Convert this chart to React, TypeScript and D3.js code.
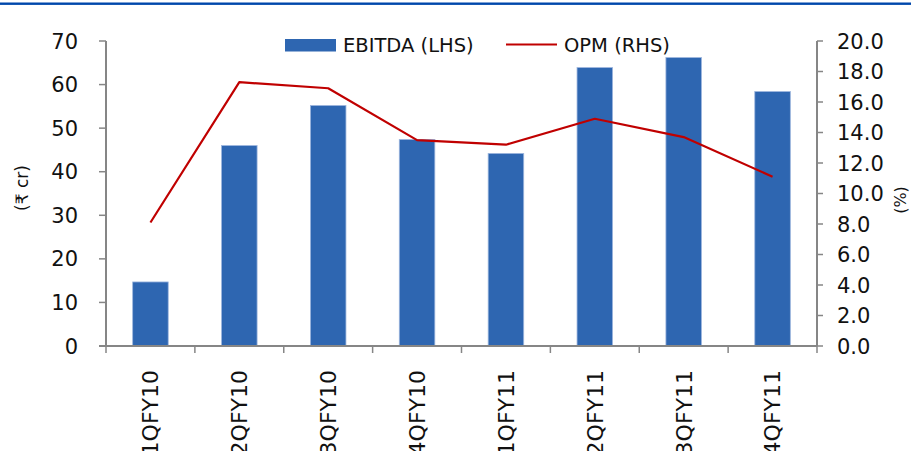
import React from "react";
import * as d3 from "d3";

const quarters = ["1QFY10", "2QFY10", "3QFY10", "4QFY10", "1QFY11", "2QFY11", "3QFY11", "4QFY11"];
const ebitda = [14.7, 46.0, 55.2, 47.4, 44.2, 63.9, 66.2, 58.4];
const opm = [8.1, 17.3, 16.9, 13.5, 13.2, 14.9, 13.7, 11.1];
const leftTicks = [0, 10, 20, 30, 40, 50, 60, 70];
const rightTicks = [0, 2, 4, 6, 8, 10, 12, 14, 16, 18, 20];

const W = 911;
const H = 451;
const M = { left: 106, right: 817, top: 41, bottom: 346 };
const FONT = "'DejaVu Sans', sans-serif";
const AXIS = "#868686";
const BAR = "#2E66B1";
const LINE = "#C00000";
const INK = "#111";

export default function App() {
  const x = d3.scaleBand<string>().domain(quarters).range([M.left, M.right]);
  const yL = d3.scaleLinear().domain([0, 70]).range([M.bottom, M.top]);
  const yR = d3.scaleLinear().domain([0, 20]).range([M.bottom, M.top]);
  const bw = x.bandwidth() * 0.4;
  const center = (q: string) => (x(q) as number) + x.bandwidth() / 2;
  const line = d3
    .line<number>()
    .x((_, i) => center(quarters[i]))
    .y((d) => yR(d));

  const boundaries = d3.range(quarters.length + 1).map((i) => M.left + i * x.step());

  return (
    <div style={{ position: "fixed", left: 0, top: 0 }}>
      <svg width={W} height={H} style={{ display: "block", fontFamily: FONT }}>
        <rect x={0} y={0} width={W} height={H} fill="#fff" />
        <rect x={0} y={2.5} width={W} height={2.4} fill="#0047AB" />

        {/* EBITDA bars */}
        {ebitda.map((v, i) => (
          <rect
            key={quarters[i]}
            x={center(quarters[i]) - bw / 2}
            y={yL(v)}
            width={bw}
            height={yL(0) - yL(v)}
            fill={BAR}
            stroke="#9DB6DE"
            strokeWidth={0.8}
          />
        ))}

        {/* OPM line */}
        <path d={line(opm) ?? ""} fill="none" stroke={LINE} strokeWidth={2.2} strokeLinejoin="round" />

        {/* left axis */}
        <line x1={M.left} x2={M.left} y1={M.top} y2={M.bottom} stroke={AXIS} strokeWidth={2} />
        {leftTicks.map((t) => (
          <g key={t}>
            <line x1={M.left - 7} x2={M.left} y1={yL(t)} y2={yL(t)} stroke={AXIS} strokeWidth={1.5} />
            <text x={78} y={yL(t)} dy="0.36em" textAnchor="end" fontSize={21} fill={INK}>
              {t}
            </text>
          </g>
        ))}

        {/* right axis */}
        <line x1={M.right} x2={M.right} y1={M.top} y2={M.bottom} stroke={AXIS} strokeWidth={2} />
        {rightTicks.map((t) => (
          <g key={t}>
            <line x1={M.right} x2={M.right + 6} y1={yR(t)} y2={yR(t)} stroke={AXIS} strokeWidth={1.5} />
            <text x={837} y={yR(t)} dy="0.36em" textAnchor="start" fontSize={21} fill={INK}>
              {t.toFixed(1)}
            </text>
          </g>
        ))}

        {/* category axis */}
        <line x1={M.left - 7} x2={M.right} y1={M.bottom} y2={M.bottom} stroke={AXIS} strokeWidth={2} />
        {boundaries.map((bx, i) => (
          <line key={i} x1={bx} x2={bx} y1={M.bottom} y2={M.bottom + 7} stroke={AXIS} strokeWidth={1.5} />
        ))}
        {quarters.map((q) => (
          <text
            key={q}
            transform={`translate(${center(q)},${370}) rotate(-90)`}
            dy="0.36em"
            textAnchor="end"
            fontSize={22}
            fill={INK}
          >
            {q}
          </text>
        ))}

        {/* axis titles */}
        <text transform="translate(22,188) rotate(-90)" dy="0.35em" textAnchor="middle" fontSize={17} fill={INK}>
          (₹ cr)
        </text>
        <text transform="translate(900,200) rotate(-90)" dy="0.35em" textAnchor="middle" fontSize={16} fill={INK}>
          (%)
        </text>

        {/* legend */}
        <rect x={285} y={39} width={51} height={12.5} fill={BAR} />
        <text x={343} y={45} dy="0.36em" fontSize={19.5} fill={INK}>
          EBITDA (LHS)
        </text>
        <line x1={506} x2={557} y1={44.5} y2={44.5} stroke={LINE} strokeWidth={2} />
        <text x={564} y={45} dy="0.36em" fontSize={19.5} fill={INK}>
          OPM (RHS)
        </text>
      </svg>
    </div>
  );
}
